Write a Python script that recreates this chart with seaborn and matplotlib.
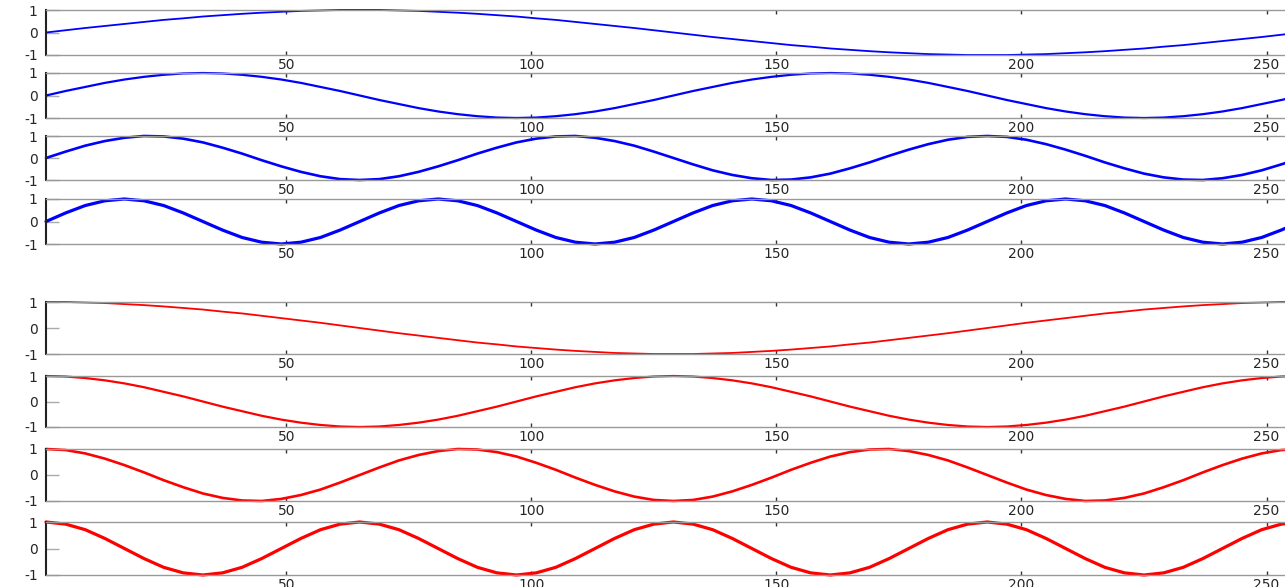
"""
Sine / cosine basis functions, 4 frequencies each, stacked panels.
"""

import matplotlib
matplotlib.use("Agg")
import matplotlib.pyplot as plt
import seaborn as sns

# sample index (every 4th sample, last one lies just past the x limit)
samples = [1, 5, 9, 13, 17, 21, 25, 29, 33, 37, 41, 45, 49, 53, 57, 61,
           65, 69, 73, 77, 81, 85, 89, 93, 97, 101, 105, 109, 113, 117, 121, 125,
           129, 133, 137, 141, 145, 149, 153, 157, 161, 165, 169, 173, 177, 181, 185, 189,
           193, 197, 201, 205, 209, 213, 217, 221, 225, 229, 233, 237, 241, 245, 249, 253,
           257]

sin_1 = [0.00, 0.10, 0.20, 0.29, 0.38, 0.47, 0.56, 0.63, 0.71, 0.77, 0.83, 0.88, 0.92, 0.96, 0.98, 1.00,
         1.00, 1.00, 0.98, 0.96, 0.92, 0.88, 0.83, 0.77, 0.71, 0.63, 0.56, 0.47, 0.38, 0.29, 0.20, 0.10,
         0.00, -0.10, -0.20, -0.29, -0.38, -0.47, -0.56, -0.63, -0.71, -0.77, -0.83, -0.88, -0.92, -0.96, -0.98, -1.00,
         -1.00, -1.00, -0.98, -0.96, -0.92, -0.88, -0.83, -0.77, -0.71, -0.63, -0.56, -0.47, -0.38, -0.29, -0.20, -0.10,
         0.00]

sin_2 = [0.00, 0.20, 0.38, 0.56, 0.71, 0.83, 0.92, 0.98, 1.00, 0.98, 0.92, 0.83, 0.71, 0.56, 0.38, 0.20,
         0.00, -0.20, -0.38, -0.56, -0.71, -0.83, -0.92, -0.98, -1.00, -0.98, -0.92, -0.83, -0.71, -0.56, -0.38, -0.20,
         0.00, 0.20, 0.38, 0.56, 0.71, 0.83, 0.92, 0.98, 1.00, 0.98, 0.92, 0.83, 0.71, 0.56, 0.38, 0.20,
         0.00, -0.20, -0.38, -0.56, -0.71, -0.83, -0.92, -0.98, -1.00, -0.98, -0.92, -0.83, -0.71, -0.56, -0.38, -0.20,
         0.00]

sin_3 = [0.00, 0.29, 0.56, 0.77, 0.92, 1.00, 0.98, 0.88, 0.71, 0.47, 0.20, -0.10, -0.38, -0.63, -0.83, -0.96,
         -1.00, -0.96, -0.83, -0.63, -0.38, -0.10, 0.20, 0.47, 0.71, 0.88, 0.98, 1.00, 0.92, 0.77, 0.56, 0.29,
         0.00, -0.29, -0.56, -0.77, -0.92, -1.00, -0.98, -0.88, -0.71, -0.47, -0.20, 0.10, 0.38, 0.63, 0.83, 0.96,
         1.00, 0.96, 0.83, 0.63, 0.38, 0.10, -0.20, -0.47, -0.71, -0.88, -0.98, -1.00, -0.92, -0.77, -0.56, -0.29,
         0.00]

sin_4 = [0.00, 0.38, 0.71, 0.92, 1.00, 0.92, 0.71, 0.38, 0.00, -0.38, -0.71, -0.92, -1.00, -0.92, -0.71, -0.38,
         0.00, 0.38, 0.71, 0.92, 1.00, 0.92, 0.71, 0.38, 0.00, -0.38, -0.71, -0.92, -1.00, -0.92, -0.71, -0.38,
         0.00, 0.38, 0.71, 0.92, 1.00, 0.92, 0.71, 0.38, 0.00, -0.38, -0.71, -0.92, -1.00, -0.92, -0.71, -0.38,
         0.00, 0.38, 0.71, 0.92, 1.00, 0.92, 0.71, 0.38, 0.00, -0.38, -0.71, -0.92, -1.00, -0.92, -0.71, -0.38,
         0.00]

cos_1 = [1.00, 1.00, 0.98, 0.96, 0.92, 0.88, 0.83, 0.77, 0.71, 0.63, 0.56, 0.47, 0.38, 0.29, 0.20, 0.10,
         0.00, -0.10, -0.20, -0.29, -0.38, -0.47, -0.56, -0.63, -0.71, -0.77, -0.83, -0.88, -0.92, -0.96, -0.98, -1.00,
         -1.00, -1.00, -0.98, -0.96, -0.92, -0.88, -0.83, -0.77, -0.71, -0.63, -0.56, -0.47, -0.38, -0.29, -0.20, -0.10,
         0.00, 0.10, 0.20, 0.29, 0.38, 0.47, 0.56, 0.63, 0.71, 0.77, 0.83, 0.88, 0.92, 0.96, 0.98, 1.00,
         1.00]

cos_2 = [1.00, 0.98, 0.92, 0.83, 0.71, 0.56, 0.38, 0.20, 0.00, -0.20, -0.38, -0.56, -0.71, -0.83, -0.92, -0.98,
         -1.00, -0.98, -0.92, -0.83, -0.71, -0.56, -0.38, -0.20, 0.00, 0.20, 0.38, 0.56, 0.71, 0.83, 0.92, 0.98,
         1.00, 0.98, 0.92, 0.83, 0.71, 0.56, 0.38, 0.20, 0.00, -0.20, -0.38, -0.56, -0.71, -0.83, -0.92, -0.98,
         -1.00, -0.98, -0.92, -0.83, -0.71, -0.56, -0.38, -0.20, 0.00, 0.20, 0.38, 0.56, 0.71, 0.83, 0.92, 0.98,
         1.00]

cos_3 = [1.00, 0.96, 0.83, 0.63, 0.38, 0.10, -0.20, -0.47, -0.71, -0.88, -0.98, -1.00, -0.92, -0.77, -0.56, -0.29,
         0.00, 0.29, 0.56, 0.77, 0.92, 1.00, 0.98, 0.88, 0.71, 0.47, 0.20, -0.10, -0.38, -0.63, -0.83, -0.96,
         -1.00, -0.96, -0.83, -0.63, -0.38, -0.10, 0.20, 0.47, 0.71, 0.88, 0.98, 1.00, 0.92, 0.77, 0.56, 0.29,
         0.00, -0.29, -0.56, -0.77, -0.92, -1.00, -0.98, -0.88, -0.71, -0.47, -0.20, 0.10, 0.38, 0.63, 0.83, 0.96,
         1.00]

cos_4 = [1.00, 0.92, 0.71, 0.38, 0.00, -0.38, -0.71, -0.92, -1.00, -0.92, -0.71, -0.38, 0.00, 0.38, 0.71, 0.92,
         1.00, 0.92, 0.71, 0.38, 0.00, -0.38, -0.71, -0.92, -1.00, -0.92, -0.71, -0.38, 0.00, 0.38, 0.71, 0.92,
         1.00, 0.92, 0.71, 0.38, 0.00, -0.38, -0.71, -0.92, -1.00, -0.92, -0.71, -0.38, 0.00, 0.38, 0.71, 0.92,
         1.00, 0.92, 0.71, 0.38, 0.00, -0.38, -0.71, -0.92, -1.00, -0.92, -0.71, -0.38, 0.00, 0.38, 0.71, 0.92,
         1.00]

x_ticks = [50, 100, 150, 200, 250]
y_ticks = [-1, 0, 1]

SERIES = [sin_1, sin_2, sin_3, sin_4, cos_1, cos_2, cos_3, cos_4]
COLORS = ["#0000FF"] * 4 + ["#FF0000"] * 4
WIDTHS = [1.3, 1.6, 1.9, 2.3] * 2

# panel (top, bottom) in pixels of the 1285x587 canvas
W, H = 1285, 587
LEFT_PX, RIGHT_PX = 46, 1296
PANELS = [(10, 55), (73, 118), (136, 180), (199, 244),
          (302, 354), (376, 427), (449, 501), (522, 575)]

sns.set_style("white")
plt.rcParams["font.family"] = ["DejaVu Sans"]
plt.rcParams["axes.unicode_minus"] = False

fig = plt.figure(figsize=(W / 100, H / 100), dpi=100)

for (top, bot), vals, color, lw in zip(PANELS, SERIES, COLORS, WIDTHS):
    ax = fig.add_axes([LEFT_PX / W, 1 - bot / H,
                       (RIGHT_PX - LEFT_PX) / W, (bot - top) / H])
    sns.lineplot(x=samples, y=vals, ax=ax, color=color, linewidth=lw,
                 clip_on=False)
    ax.set_xlim(1, 256)
    ax.set_ylim(-1, 1)
    ax.set_xticks(x_ticks)
    ax.set_yticks(y_ticks)
    ax.set_xlabel("")
    ax.set_ylabel("")
    ax.tick_params(axis="x", direction="in", top=True, bottom=True,
                   length=3, width=1, color="#333333", pad=2, labelsize=10)
    ax.tick_params(axis="y", direction="in", left=True, length=9,
                   width=1, color="#aaaaaa", pad=6, labelsize=10)
    for s in ("top", "bottom"):
        ax.spines[s].set_color("#999999")
        ax.spines[s].set_linewidth(1)
    ax.spines["left"].set_color("#222222")
    ax.spines["left"].set_linewidth(1.5)
    ax.spines["right"].set_visible(False)
    ax.set_facecolor("white")

fig.savefig("out.png", dpi=100)
